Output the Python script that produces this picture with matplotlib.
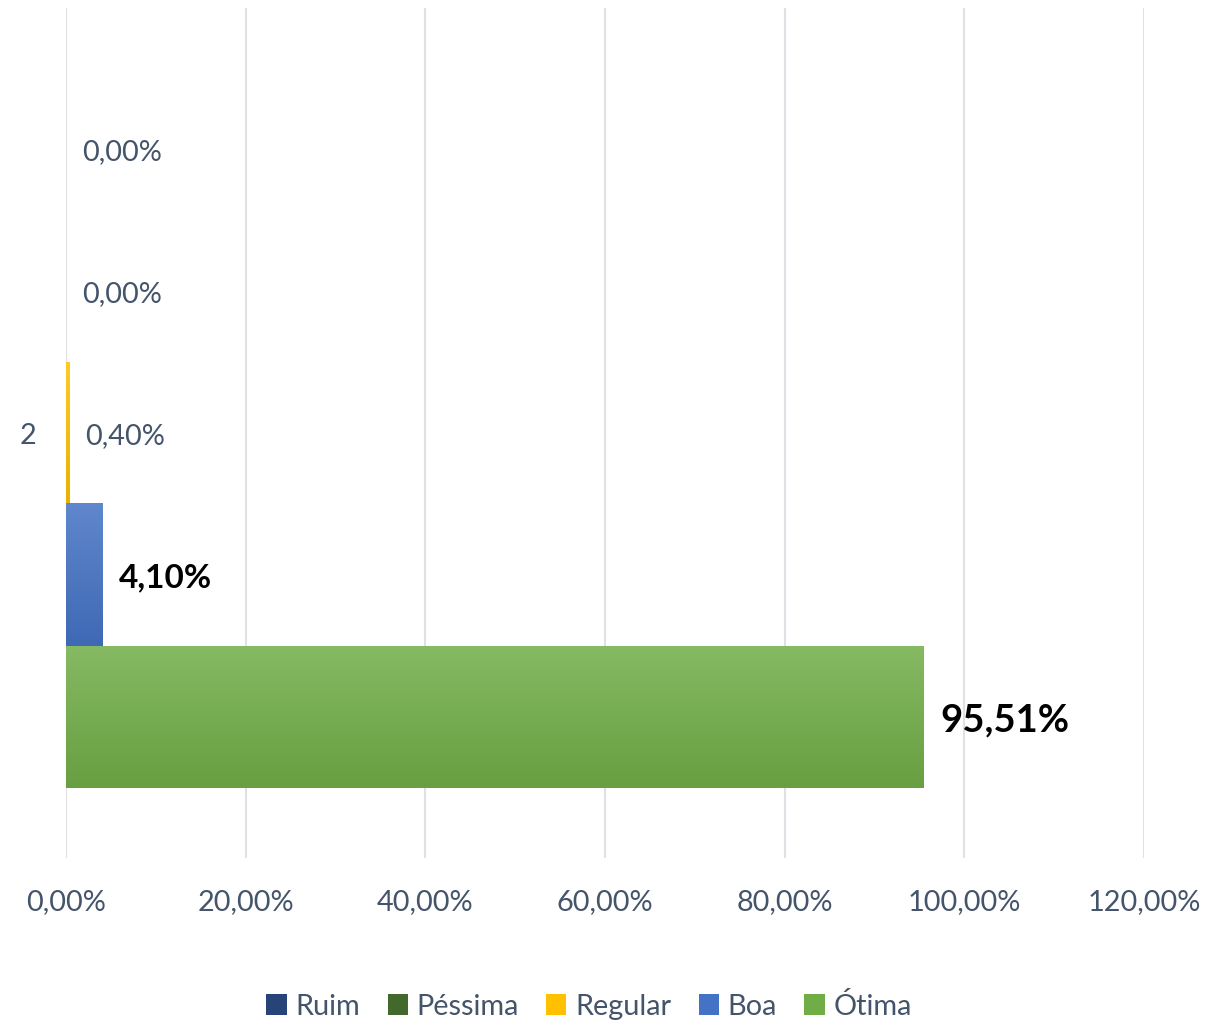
import matplotlib
matplotlib.use("Agg")
import matplotlib.pyplot as plt
import matplotlib.transforms as mtransforms
import numpy as np
from matplotlib.colors import to_rgb
from matplotlib.patches import Patch

plt.rcParams['font.family'] = ['Lato', 'DejaVu Sans']

category = "2"
series = ["Ruim", "Péssima", "Regular", "Boa", "Ótima"]
values = [0.00, 0.00, 0.40, 4.10, 95.51]
labels = ["0,00%", "0,00%", "0,40%", "4,10%", "95,51%"]
bold = [False, False, False, True, True]
label_sizes = [20.8, 20.8, 20.8, 24, 27.5]
colors = ["#264478", "#43682B", "#FFC000", "#4472C4", "#70AD47"]
xticks = [0, 20, 40, 60, 80, 100, 120]
xticklabels = ["0,00%", "20,00%", "40,00%", "60,00%", "80,00%", "100,00%", "120,00%"]

text_color = "#44546A"
grid_color = "#DEE2E7"

fig = plt.figure(figsize=(12.17, 10.22), dpi=100)
ax = fig.add_axes([66/1217, 1-858/1022, (1144-66)/1217, (858-8)/1022])

h = 142/850
n = len(series)

def lighten(c, f):
    r = np.array(to_rgb(c))
    return r + (1 - r) * f

def darken(c, f):
    return np.array(to_rgb(c)) * (1 - f)

trans_lab = mtransforms.offset_copy(ax.transData, fig=fig, x=0, y=-3, units='dots')

for i, (s, v, c) in enumerate(zip(series, values, colors)):
    yc = (i - (n - 1) / 2) * h
    top = yc - h / 2
    bot = yc + h / 2
    if v > 0:
        c1 = lighten(c, 0.15)
        c2 = darken(c, 0.08)
        t = np.linspace(0, 1, 256)[:, None]
        grad = c1[None, :] * (1 - t) + c2[None, :] * t
        ax.imshow(grad[:, None, :], extent=(0, v, bot, top), origin='upper',
                  aspect='auto', zorder=3, interpolation='bilinear')
    ax.text(v + 16/1078*120, yc, labels[i], va='center', ha='left',
            fontsize=label_sizes[i],
            fontweight='bold' if bold[i] else 'normal',
            color='black' if bold[i] else text_color,
            zorder=4, transform=trans_lab)

ax.set_xlim(0, 120)
ax.set_ylim(0.5, -0.5)
ax.set_xticks(xticks)
ax.set_xticklabels(xticklabels, fontsize=20.8, color=text_color)
ax.set_yticks([])
ax.tick_params(axis='both', length=0)
ax.tick_params(axis='x', pad=22)
ax.grid(axis='x', color=grid_color, linewidth=1.5, zorder=0)
ax.set_axisbelow(True)
for sp in ax.spines.values():
    sp.set_visible(False)

# category label
ax.text(-(66 - 28) / 1078 * 120, 0, category, ha='center', va='center',
        fontsize=20.8, color=text_color, transform=trans_lab)

handles = [Patch(facecolor=c, edgecolor='none') for c in colors]
leg = fig.legend(handles, series, loc='center', bbox_to_anchor=(589/1217, 1-1006/1022),
                 ncol=5, frameon=False, fontsize=20.8, handlelength=0.7, handleheight=0.7,
                 handletextpad=0.3, columnspacing=0.95)
for t in leg.get_texts():
    t.set_color(text_color)

fig.savefig("out.png", dpi=100)
